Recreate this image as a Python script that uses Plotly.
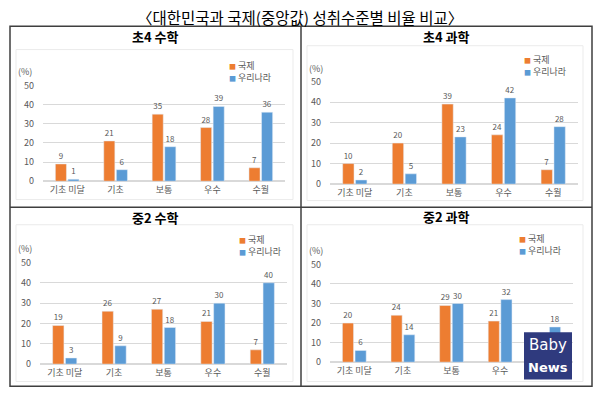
import plotly.graph_objects as go

W, H = 600, 403

categories = ["기초 미달", "기초", "보통", "우수", "수월"]
series_names = ["국제", "우리나라"]
panel_titles = ["초4 수학", "초4 과학", "중2 수학", "중2 과학"]

intl_e4_math = [9, 21, 35, 28, 7]
kor_e4_math = [1, 6, 18, 39, 36]
intl_e4_sci = [10, 20, 39, 24, 7]
kor_e4_sci = [2, 5, 23, 42, 28]
intl_m2_math = [19, 26, 27, 21, 7]
kor_m2_math = [3, 9, 18, 30, 40]
intl_m2_sci = [20, 24, 29, 21, 6]
kor_m2_sci = [6, 14, 30, 32, 18]

y_ticks = [0, 10, 20, 30, 40, 50]

ORANGE = "#ED7D31"
BLUE = "#5B9BD5"
GRAY_TXT = "#595959"
GRID = "#D9D9D9"
FONT = "Noto Sans CJK KR"

data = [
    (intl_e4_math, kor_e4_math),
    (intl_e4_sci, kor_e4_sci),
    (intl_m2_math, kor_m2_math),
    (intl_m2_sci, kor_m2_sci),
]

# plot areas in pixels: (left, right, top, bottom)
plot_px = [
    (43, 285, 81, 180),
    (330, 578, 77, 183),
    (40, 287, 264, 369),
    (330, 573, 266, 367),
]
title_px = [(155, 30), (446, 30), (155, 217), (446, 216)]
legend_px = [(228, 60), (523, 54), (238, 240), (518, 239)]
pct_px = [(25, 67), (316, 64), (25, 250), (316, 252)]
inner_box_px = [(16, 293, 44, 199), (307, 583, 40, 200),
                (16, 293, 225, 387), (307, 583, 225, 387)]


def xd(a, b):
    return [a / W, b / W]


def yd(top, bottom):
    return [1 - bottom / H, 1 - top / H]


fig = go.Figure()
annotations = []
shapes = []

for i, ((intl, kor), (l, r, t, b)) in enumerate(zip(data, plot_px)):
    n = "" if i == 0 else str(i + 1)
    xa, ya = "x" + n, "y" + n
    for vals, name, col in ((intl, series_names[0], ORANGE), (kor, series_names[1], BLUE)):
        fig.add_trace(go.Bar(
            x=categories, y=vals, name=name, marker_color=col,
            text=[str(v) for v in vals], textposition="outside",
            textfont=dict(size=8, color=GRAY_TXT, family=FONT),
            outsidetextfont=dict(size=8, color=GRAY_TXT, family=FONT),
            cliponaxis=False, showlegend=False, xaxis=xa, yaxis=ya,
        ))
    fig.layout["xaxis" + n] = dict(
        domain=xd(l, r), anchor=ya, showgrid=False, showline=False, zeroline=False,
        tickfont=dict(size=9, color=GRAY_TXT, family=FONT), ticks="",
        ticklabelstandoff=2, fixedrange=True,
    )
    fig.layout["yaxis" + n] = dict(
        domain=yd(t, b), anchor=xa, range=[0, 50], tickvals=y_ticks,
        showgrid=True, gridcolor=GRID, gridwidth=1, zeroline=True, zerolinecolor=GRID,
        showline=False, ticks="", ticklabelstandoff=8,
        tickfont=dict(size=9, color=GRAY_TXT, family=FONT), fixedrange=True,
    )
    tx, ty = title_px[i]
    annotations.append(dict(
        x=tx / W, y=1 - ty / H, xref="paper", yref="paper", text="<b>" + panel_titles[i] + "</b>",
        showarrow=False, font=dict(size=13, color="#000000", family=FONT),
        xanchor="center", yanchor="middle", borderpad=0))
    px_, py_ = pct_px[i]
    annotations.append(dict(
        x=px_ / W, y=1 - py_ / H, xref="paper", yref="paper", text="(%)",
        showarrow=False, font=dict(size=9, color=GRAY_TXT, family=FONT),
        xanchor="center", yanchor="middle"))
    lx, ly = legend_px[i]
    for k, (name, col) in enumerate(zip(series_names, (ORANGE, BLUE))):
        annotations.append(dict(
            x=lx / W, y=1 - (ly + k * 13) / H, xref="paper", yref="paper",
            text='<span style="color:%s;font-size:7px">■</span> %s' % (col, name),
            showarrow=False, font=dict(size=9, color=GRAY_TXT, family=FONT),
            xanchor="left", yanchor="middle", borderpad=0))
    bl, br, bt, bb = inner_box_px[i]
    shapes.append(dict(type="rect", xref="paper", yref="paper",
                       x0=bl / W, x1=br / W, y0=1 - bb / H, y1=1 - bt / H,
                       line=dict(color="#EBEBEB", width=1), layer="below"))

# outer frame and dividers
shapes.append(dict(type="rect", xref="paper", yref="paper",
                   x0=10 / W, x1=592 / W, y0=1 - 392 / H, y1=1 - 20 / H,
                   line=dict(color="#3F3F3F", width=1.5)))
shapes.append(dict(type="line", xref="paper", yref="paper",
                   x0=301 / W, x1=301 / W, y0=1 - 392 / H, y1=1 - 20 / H,
                   line=dict(color="#3F3F3F", width=1.5)))
shapes.append(dict(type="line", xref="paper", yref="paper",
                   x0=10 / W, x1=592 / W, y0=1 - 207 / H, y1=1 - 207 / H,
                   line=dict(color="#3F3F3F", width=1.5)))

annotations.append(dict(
    x=0.5, y=1 - 10 / H, xref="paper", yref="paper",
    text="〈대한민국과 국제(중앙값) 성취수준별 비율 비교〉",
    showarrow=False, font=dict(size=15.5, color="#000000", family=FONT),
    xanchor="center", yanchor="middle", borderpad=0))

# watermark logo
shapes.append(dict(type="rect", xref="paper", yref="paper",
                   x0=524 / W, x1=572 / W, y0=1 - 385 / H, y1=1 - 336 / H,
                   fillcolor="#2F3A7E", line=dict(width=0), layer="above"))
annotations.append(dict(x=548 / W, y=1 - 349 / H, xref="paper", yref="paper",
                        text="Baby", showarrow=False,
                        font=dict(size=15, color="#FFFFFF", family="DejaVu Sans"),
                        xanchor="center", yanchor="middle", borderpad=0))
annotations.append(dict(x=548 / W, y=1 - 372 / H, xref="paper", yref="paper",
                        text="<b>News</b>", showarrow=False,
                        font=dict(size=13, color="#FFFFFF", family="DejaVu Sans"),
                        xanchor="center", yanchor="middle", borderpad=0))

fig.update_layout(
    width=W, height=H, margin=dict(l=0, r=0, t=0, b=0),
    paper_bgcolor="#FFFFFF", plot_bgcolor="#FFFFFF",
    barmode="group", bargap=0.48, bargroupgap=0.12,
    font=dict(family=FONT),
    annotations=annotations, shapes=shapes,
)

fig.write_html("out.html")
